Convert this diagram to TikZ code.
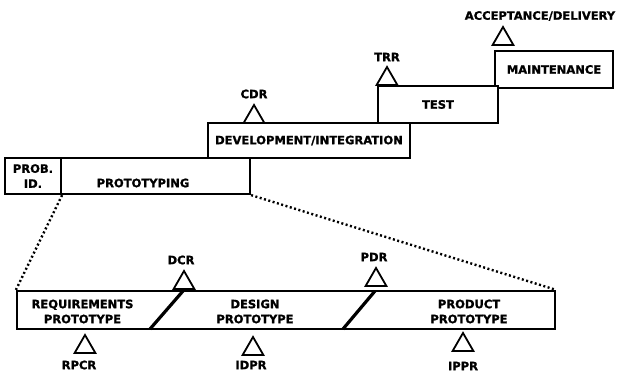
\documentclass[tikz,border=0pt]{standalone}
\usepackage{fontspec}
\newfontfamily\diafont{DejaVu Sans}[BoldFeatures={FakeBold=1.2}]
\usetikzlibrary{shapes.geometric,positioning}
\tikzset{
  stage/.style={draw,line width=2.2pt,fill=white,inner sep=0pt,align=center,
    font=\diafont\bfseries\fontsize{11.5}{15}\selectfont},
  tag/.style={inner sep=0pt,align=center,font=\diafont\bfseries\fontsize{11.5}{15}\selectfont},
  milestone/.style={draw,line width=1.8pt,fill=white,regular polygon,regular polygon sides=3,
    minimum size=24pt,inner sep=0pt},
  zoomline/.style={line width=2.4pt,dash pattern=on 2pt off 2.5pt},
  divider/.style={line width=3.2pt}
}
\begin{document}
\begin{tikzpicture}[x=1pt,y=-1pt]
        \useasboundingbox (0,0) rectangle (618,372);
        %% staircase of phases
        \node[stage,minimum width=118,minimum height=37] (maint) at (554,69.5) {MAINTENANCE};
        \node[stage,minimum width=120,minimum height=37] (test) at (438,104.5) {TEST};
        \node[stage,minimum width=202,minimum height=35] (dev) at (309,140.5) {DEVELOPMENT/INTEGRATION};
        \node[stage,minimum width=56,minimum height=36] (prob) at (33,176) {PROB.\\ID.};
        \node[stage,minimum width=189,minimum height=36] (proto) at (155.5,176) {};
        \node[tag] (protoname) at (143,183) {PROTOTYPING};
        %% reviews on the staircase
        \node[milestone] (cdr) at (254,117) {};
        \node[milestone] (trr) at (387,79) {};
        \node[milestone] (acc) at (503,39) {};
        \node[tag] (cdrname) at (254,94) {CDR};
        \node[tag] (trrname) at (387,57) {TRR};
        \node[tag] (accname) at (540,16) {ACCEPTANCE/DELIVERY};
        %% prototyping in detail
        \node[stage,minimum width=538,minimum height=38] (phases) at (286,310) {};
        \draw[divider] (150,329) -- (183,291);
        \draw[divider] (343,329) -- (375,291);
        \node[tag] (reqname) at (82.5,311.5) {REQUIREMENTS\\PROTOTYPE};
        \node[tag] (desname) at (255,311.5) {DESIGN\\PROTOTYPE};
        \node[tag] (prodname) at (469,311.5) {PRODUCT\\PROTOTYPE};
        %% zoom lines
        \draw[zoomline] (prob.south east) -- (phases.north west);
        \draw[zoomline] (proto.south east) -- (phases.north east);
        %% reviews on the prototypes
        \node[milestone] (dcr) at (184,283) {};
        \node[milestone] (pdr) at (376,280) {};
        \node[milestone] (rpcr) at (85,347) {};
        \node[milestone] (idpr) at (253,349) {};
        \node[milestone] (ippr) at (463,345) {};
        \node[tag] (dcrname) at (181,260) {DCR};
        \node[tag] (pdrname) at (374,257) {PDR};
        \node[tag] (rpcrname) at (79,365) {RPCR};
        \node[tag] (idprname) at (251,365) {IDPR};
        \node[tag] (ipprname) at (463,366) {IPPR};
\end{tikzpicture}
\end{document}
